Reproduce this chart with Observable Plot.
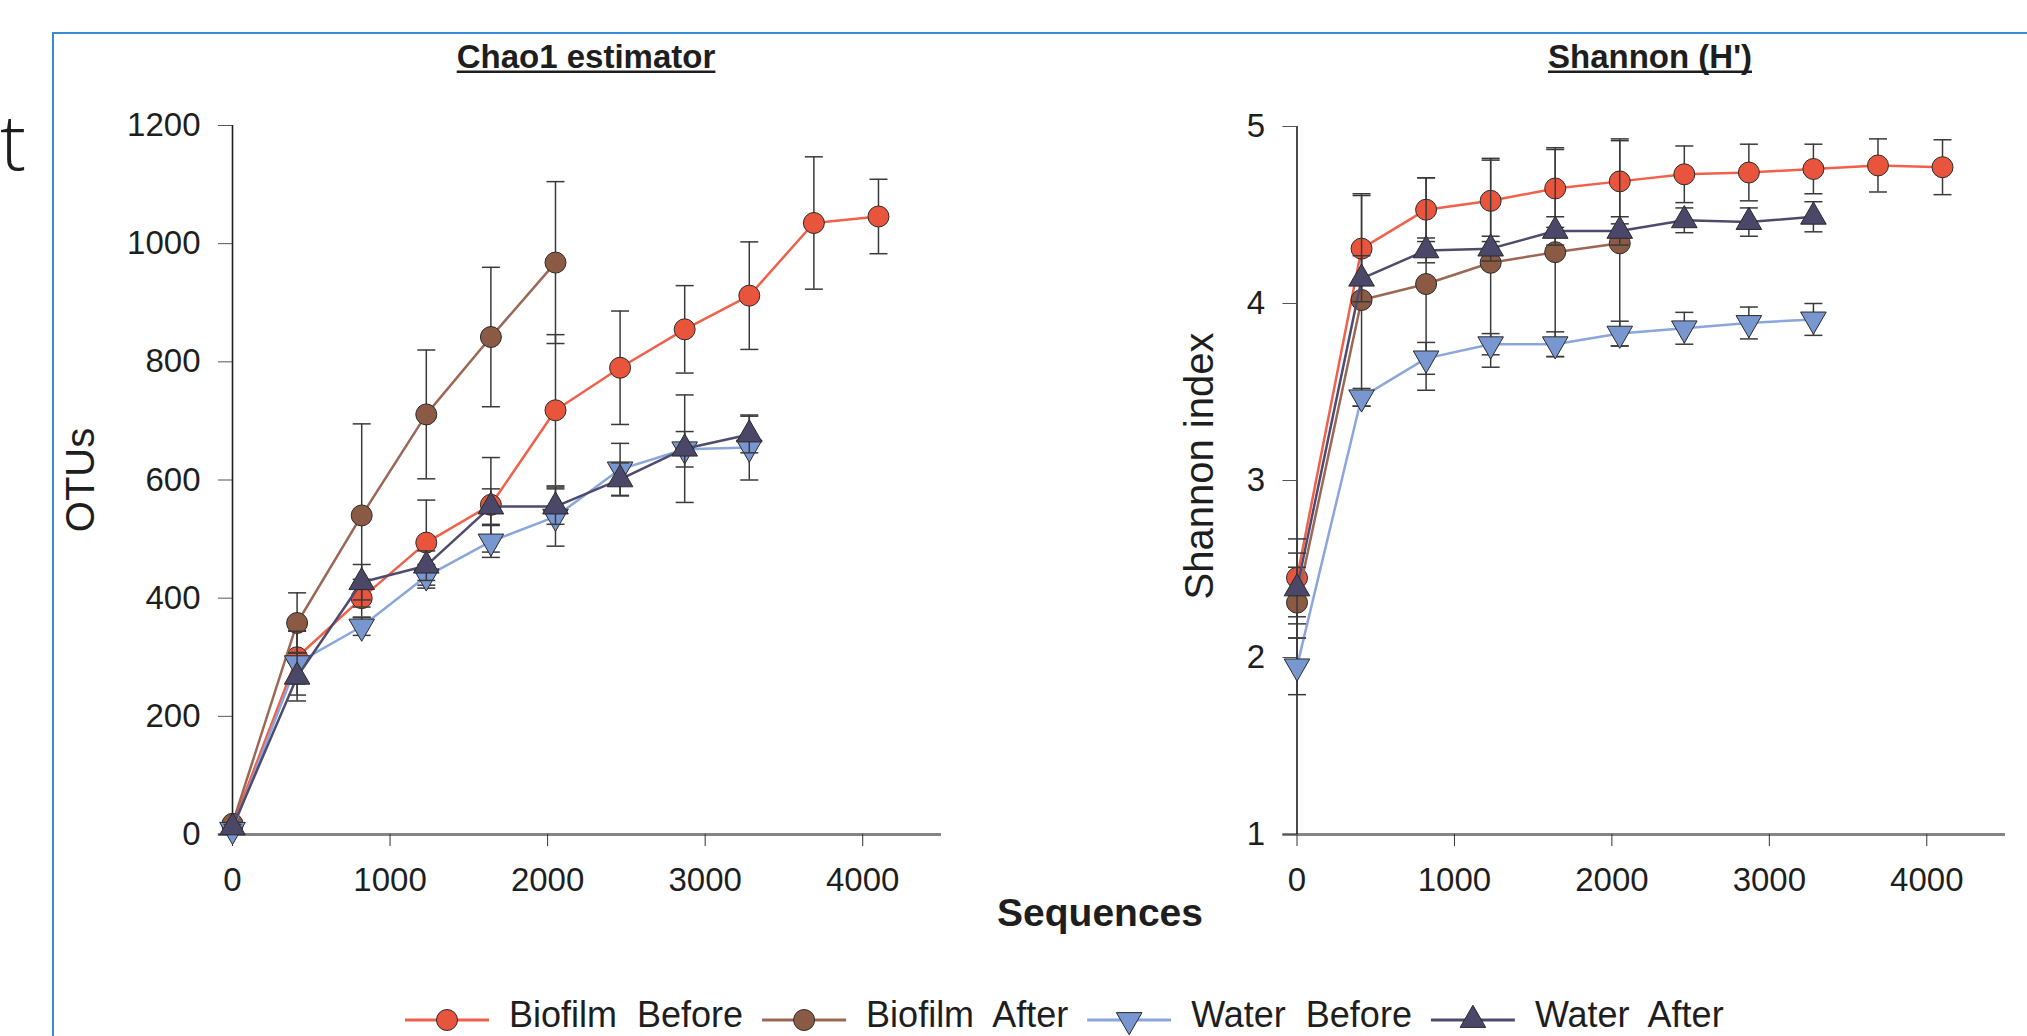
<!DOCTYPE html>
<html>
<head>
<meta charset="utf-8">
<script src="https://cdn.jsdelivr.net/npm/d3@7"></script>
<script src="https://cdn.jsdelivr.net/npm/@observablehq/plot@0.6"></script>
<style>
  html, body { margin: 0; padding: 0; background: #ffffff; overflow: hidden; }
  #page { position: relative; width: 2027px; height: 1036px; overflow: hidden; background: #ffffff; }
  #frame { position: absolute; left: 52px; top: 32px; width: 2100px; height: 1100px; border: 2px solid #3a8ad6; box-sizing: border-box; }
  .plot { position: absolute; top: 60px; }
  #left { left: 100px; }
  #right { left: 1160px; }
  #overlay { position: absolute; left: 0; top: 0; pointer-events: none; }
</style>
</head>
<body>
<div id="page">
  <div id="frame"></div>
  <div id="left" class="plot"></div>
  <div id="right" class="plot"></div>
  <svg id="overlay" width="2027" height="1036"></svg>
</div>
<script>
// ---------------- data ----------------
const seqs = [0, 410, 820, 1230, 1640, 2050, 2460, 2870, 3280, 3690, 4100];
const seriesNames = ["Biofilm  Before", "Biofilm  After", "Water  Before", "Water  After"];
const xTicks = [0, 1000, 2000, 3000, 4000];
const chaoTicks = [0, 200, 400, 600, 800, 1000, 1200];
const shannonTicks = [1, 2, 3, 4, 5];

// Chao1 estimator (OTUs) means and error half-widths
const chaoBiofilmBefore    = [15, 300, 400, 494, 558, 718, 790, 855, 912, 1035, 1046];
const chaoBiofilmBeforeErr = [5, 45, 32, 72, 80, 128, 96, 74, 91, 112, 63];
const chaoBiofilmAfter     = [18, 358, 540, 711, 842, 968];
const chaoBiofilmAfterErr  = [5, 51, 155, 109, 118, 137];
const chaoWaterBefore      = [8, 290, 352, 437, 496, 538, 618, 652, 655];
const chaoWaterBeforeErr   = [5, 54, 15, 20, 27, 50, 44, 30, 55];
const chaoWaterAfter       = [12, 267, 427, 455, 555, 555, 601, 653, 677];
const chaoWaterAfterErr    = [5, 41, 30, 25, 30, 30, 28, 91, 31];

// Shannon (H') means and error half-widths
const shBiofilmBefore    = [2.45, 4.31, 4.53, 4.58, 4.65, 4.69, 4.73, 4.74, 4.76, 4.78, 4.77];
const shBiofilmBeforeErr = [0.22, 0.30, 0.18, 0.23, 0.22, 0.24, 0.16, 0.16, 0.14, 0.15, 0.155];
const shBiofilmAfter     = [2.31, 4.02, 4.11, 4.23, 4.29, 4.34];
const shBiofilmAfterErr  = [0.20, 0.60, 0.60, 0.59, 0.59, 0.58];
const shWaterBefore      = [1.95, 3.47, 3.69, 3.77, 3.77, 3.83, 3.86, 3.89, 3.91];
const shWaterBeforeErr   = [0.16, 0.05, 0.09, 0.06, 0.07, 0.07, 0.09, 0.09, 0.09];
const shWaterAfter       = [2.39, 4.14, 4.30, 4.31, 4.41, 4.41, 4.47, 4.46, 4.49];
const shWaterAfterErr    = [0.20, 0.13, 0.07, 0.07, 0.08, 0.08, 0.07, 0.08, 0.085];

// ---------------- style ----------------
const FONT = '"Liberation Sans", Arial, Helvetica, sans-serif';
const lineColors = ["#f0604a", "#9c6755", "#8aa6da", "#4f4b6e"];
const fillColors = ["#e9553c", "#8b5a45", "#7896cf", "#4a4768"];
const ERR = "#3a3a3a";

const triDown = {
  draw(context, size) {
    const s3 = Math.sqrt(3);
    const y = -Math.sqrt(size / (s3 * 3));
    context.moveTo(0, -2 * y);
    context.lineTo(s3 * y, y);
    context.lineTo(-s3 * y, y);
    context.closePath();
  }
};
const capSym = {
  draw(context) { context.moveTo(-9, 0); context.lineTo(9, 0); }
};
const symbols = ["circle", "circle", triDown, "triangle"];
const radii = [10.5, 10.5, 9.5, 9.5];

function toRows(values, errors) {
  return values.map((v, i) => ({ s: seqs[i], v, lo: v - errors[i], hi: v + errors[i] }));
}

function seriesMarks(rows, i) {
  return [
    Plot.line(rows, { x: "s", y: "v", stroke: lineColors[i], strokeWidth: 2.5 }),
    Plot.ruleX(rows, { x: "s", y1: "lo", y2: "hi", stroke: ERR, strokeWidth: 1.5 }),
    Plot.dot(rows, { x: "s", y: "lo", symbol: capSym, r: 4, fill: "none", stroke: ERR, strokeWidth: 1.5 }),
    Plot.dot(rows, { x: "s", y: "hi", symbol: capSym, r: 4, fill: "none", stroke: ERR, strokeWidth: 1.5 }),
    Plot.dot(rows, { x: "s", y: "v", symbol: symbols[i], r: radii[i], fill: fillColors[i], stroke: "#2a2a2a", strokeWidth: 1 })
  ];
}

function panel({ series, yDomain, yTicks, width, marginLeft, marginRight, marginTop }) {
  const marks = [
    Plot.ruleY([yDomain[0]], { x1: -90, x2: 4500, stroke: "#858585", strokeWidth: 3 }),
    Plot.ruleX([0], { y1: yDomain[0], y2: yDomain[1], stroke: "#1e1e1e", strokeWidth: 1.6 }),
    Plot.axisX({ ticks: xTicks, tickSize: 12, tickPadding: 21, tickFormat: d => String(d), label: null, stroke: "#333" }),
    Plot.axisY({ ticks: yTicks, tickSize: 14, tickPadding: 18, tickFormat: d => String(d), label: null, stroke: "#555" })
  ];
  series.forEach((rows, i) => marks.push(...seriesMarks(rows, i)));
  return Plot.plot({
    width, height: 880,
    marginTop, marginBottom: 106, marginLeft, marginRight,
    style: { fontFamily: FONT, fontSize: "33px", color: "#1e1e1e", background: "transparent", overflow: "visible" },
    x: { domain: [0, 4500] },
    y: { domain: yDomain },
    marks
  });
}

const chaoSeries = [
  toRows(chaoBiofilmBefore, chaoBiofilmBeforeErr),
  toRows(chaoBiofilmAfter, chaoBiofilmAfterErr),
  toRows(chaoWaterBefore, chaoWaterBeforeErr),
  toRows(chaoWaterAfter, chaoWaterAfterErr)
];
const shSeries = [
  toRows(shBiofilmBefore, shBiofilmBeforeErr),
  toRows(shBiofilmAfter, shBiofilmAfterErr),
  toRows(shWaterBefore, shWaterBeforeErr),
  toRows(shWaterAfter, shWaterAfterErr)
];

document.getElementById("left").append(panel({
  series: chaoSeries, yDomain: [0, 1200], yTicks: chaoTicks,
  width: 880, marginLeft: 132, marginRight: 39, marginTop: 65
}));
document.getElementById("right").append(panel({
  series: shSeries, yDomain: [1, 5], yTicks: shannonTicks,
  width: 867, marginLeft: 136.5, marginRight: 22, marginTop: 66
}));

// ---------------- overlay texts & legend ----------------
const ov = d3.select("#overlay").style("font-family", FONT).style("fill", "#1e1e1e");

// slide letter at far left
ov.append("text").attr("x", 0).attr("y", 170).attr("text-anchor", "start")
  .style("font-family", '"Open Sans", sans-serif').style("font-weight", 300).style("font-size", "78px")
  .text("t");

function title(cx, baseline, txt) {
  const t = ov.append("text").attr("x", cx).attr("y", baseline).attr("text-anchor", "middle")
    .style("font-weight", "bold").style("font-size", "33px").text(txt);
  const bb = t.node().getBBox();
  ov.append("rect").attr("x", bb.x).attr("y", baseline + 2.5).attr("width", bb.width).attr("height", 2.5).attr("fill", "#1e1e1e");
}
title(586, 68, "Chao1 estimator");
title(1650, 68, "Shannon (H')");

ov.append("text").attr("transform", "translate(94,480) rotate(-90)").attr("text-anchor", "middle")
  .style("font-size", "40px").text("OTUs");
ov.append("text").attr("transform", "translate(1213,466) rotate(-90)").attr("text-anchor", "middle")
  .style("font-size", "40px").text("Shannon index");

ov.append("text").attr("x", 1100).attr("y", 926).attr("text-anchor", "middle")
  .style("font-weight", "bold").style("font-size", "39px").text("Sequences");

// legend
let lx = 405;
const ly = 1020;
seriesNames.forEach((name, i) => {
  ov.append("line").attr("x1", lx).attr("x2", lx + 84).attr("y1", ly).attr("y2", ly)
    .attr("stroke", lineColors[i]).attr("stroke-width", 3);
  const sym = typeof symbols[i] === "string"
    ? (symbols[i] === "circle" ? d3.symbolCircle : d3.symbolTriangle) : symbols[i];
  ov.append("path").attr("transform", `translate(${lx + 42},${ly})`)
    .attr("d", d3.symbol().type(sym).size(Math.PI * radii[i] * radii[i])())
    .attr("fill", fillColors[i]).attr("stroke", "#2a2a2a").attr("stroke-width", 1);
  const t = ov.append("text").attr("x", lx + 104).attr("y", 1027)
    .style("font-size", "36px").style("white-space", "pre").attr("xml:space", "preserve").text(name);
  lx = lx + 104 + t.node().getComputedTextLength() + 19;
});
</script>
</body>
</html>
